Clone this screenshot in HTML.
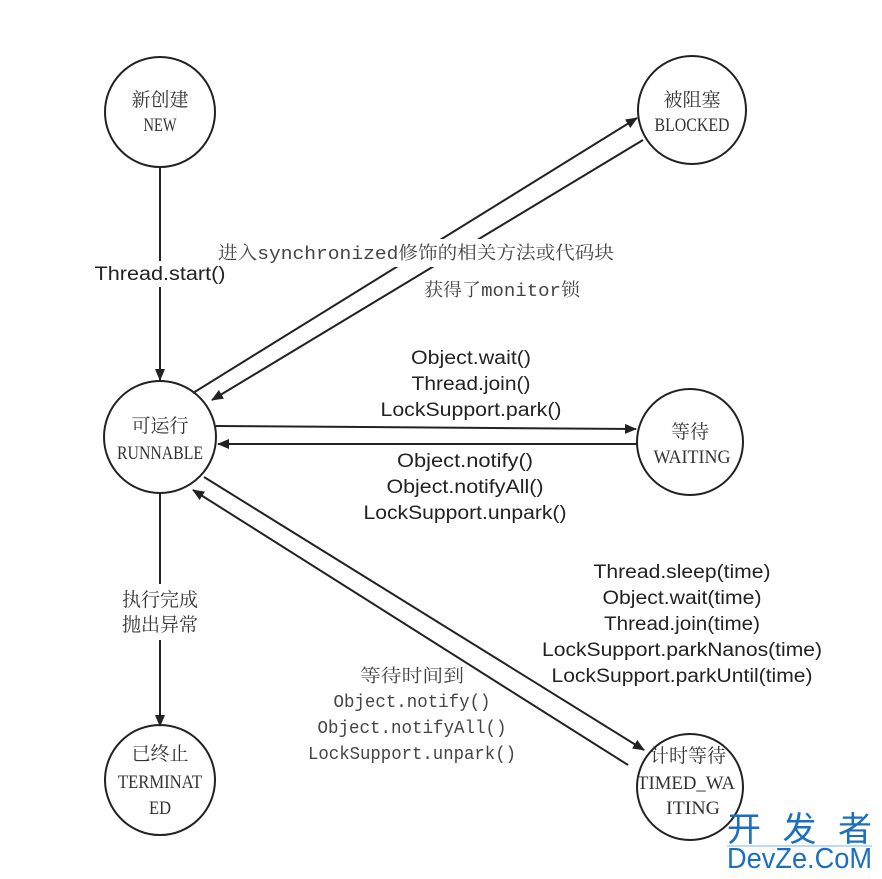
<!DOCTYPE html>
<html><head><meta charset="utf-8"><style>
html,body{margin:0;padding:0;background:#fff;}
svg{display:block}
.s{font-family:"Liberation Sans","Noto Sans CJK SC",sans-serif;font-size:19px;fill:#222}
.c{font-family:"Liberation Serif","Noto Serif CJK SC","Noto Sans CJK SC",serif;font-size:19px;fill:#333}
.n{font-family:"Liberation Serif","Noto Serif CJK SC",serif;font-size:19px;fill:#333}
.m{font-family:"Liberation Mono","Noto Serif CJK SC",monospace;font-size:18px;fill:#444}
</style></head><body>
<svg width="882" height="879" viewBox="0 0 882 879" xmlns="http://www.w3.org/2000/svg">
<defs><marker id="a" markerWidth="12" markerHeight="10" refX="11" refY="5" orient="auto" markerUnits="userSpaceOnUse"><path d="M0,0 L12,5 L0,10 Z" fill="#222"/></marker></defs>
<g fill="none" stroke="#222" stroke-width="2">
<circle cx="160" cy="112" r="55"/>
<circle cx="692" cy="110" r="54"/>
<circle cx="160" cy="437" r="56"/>
<circle cx="690" cy="442" r="53"/>
<circle cx="160" cy="780" r="55"/>
<circle cx="690" cy="787" r="53"/>
<line x1="160" y1="167" x2="160" y2="380" marker-end="url(#a)"/>
<line x1="193" y1="393" x2="637" y2="118" marker-end="url(#a)"/>
<line x1="643" y1="140" x2="212" y2="400" marker-end="url(#a)"/>
<line x1="216" y1="426" x2="636" y2="429" marker-end="url(#a)"/>
<line x1="637" y1="444" x2="218" y2="444" marker-end="url(#a)"/>
<line x1="160" y1="493" x2="160" y2="726" marker-end="url(#a)"/>
<line x1="204" y1="477" x2="644" y2="750" marker-end="url(#a)"/>
<line x1="628" y1="765" x2="193" y2="490" marker-end="url(#a)"/>
</g>
<g fill="#fff">
<rect x="94" y="261" width="133" height="26"/>
<rect x="114" y="584" width="92" height="56"/>
<rect x="214" y="239" width="402" height="28"/>
</g>
<g text-anchor="middle">
<text class="c" x="160" y="106">新创建</text>
<text class="n" x="160" y="131" textLength="33" lengthAdjust="spacingAndGlyphs">NEW</text>
<text class="c" x="692" y="106">被阻塞</text>
<text class="n" x="692" y="131" textLength="75" lengthAdjust="spacingAndGlyphs">BLOCKED</text>
<text class="c" x="160" y="432">可运行</text>
<text class="n" x="160" y="459" textLength="86" lengthAdjust="spacingAndGlyphs">RUNNABLE</text>
<text class="c" x="690" y="438">等待</text>
<text class="n" x="692" y="463" textLength="77" lengthAdjust="spacingAndGlyphs">WAITING</text>
<text class="c" x="160" y="760">已终止</text>
<text class="n" x="160" y="788" textLength="84" lengthAdjust="spacingAndGlyphs">TERMINAT</text>
<text class="n" x="160" y="814" textLength="22" lengthAdjust="spacingAndGlyphs">ED</text>
<text class="c" x="688" y="762">计时等待</text>
<text class="n" x="686" y="789" textLength="98" lengthAdjust="spacingAndGlyphs">TIMED_WA</text>
<text class="n" x="693" y="814" textLength="54" lengthAdjust="spacingAndGlyphs">ITING</text>

<text class="s" x="160" y="280" textLength="131" lengthAdjust="spacingAndGlyphs">Thread.start()</text>
<text class="m" x="416" y="259" textLength="396" lengthAdjust="spacingAndGlyphs">进入synchronized修饰的相关方法或代码块</text>
<text class="m" x="502" y="296" textLength="156" lengthAdjust="spacingAndGlyphs">获得了monitor锁</text>
<text class="s" x="471" y="364" textLength="120" lengthAdjust="spacingAndGlyphs">Object.wait()</text>
<text class="s" x="471" y="390" textLength="119" lengthAdjust="spacingAndGlyphs">Thread.join()</text>
<text class="s" x="471" y="416" textLength="181" lengthAdjust="spacingAndGlyphs">LockSupport.park()</text>
<text class="s" x="465" y="467" textLength="136" lengthAdjust="spacingAndGlyphs">Object.notify()</text>
<text class="s" x="465" y="493" textLength="157" lengthAdjust="spacingAndGlyphs">Object.notifyAll()</text>
<text class="s" x="465" y="519" textLength="203" lengthAdjust="spacingAndGlyphs">LockSupport.unpark()</text>
<text class="c" x="160" y="606">执行完成</text>
<text class="c" x="160" y="631">抛出异常</text>
<text class="s" x="682" y="578" textLength="177" lengthAdjust="spacingAndGlyphs">Thread.sleep(time)</text>
<text class="s" x="682" y="604" textLength="159" lengthAdjust="spacingAndGlyphs">Object.wait(time)</text>
<text class="s" x="682" y="630" textLength="156" lengthAdjust="spacingAndGlyphs">Thread.join(time)</text>
<text class="s" x="682" y="656" textLength="280" lengthAdjust="spacingAndGlyphs">LockSupport.parkNanos(time)</text>
<text class="s" x="682" y="682" textLength="261" lengthAdjust="spacingAndGlyphs">LockSupport.parkUntil(time)</text>
<text class="m" x="412" y="682" textLength="104" lengthAdjust="spacingAndGlyphs">等待时间到</text>
<text class="m" x="412" y="707" textLength="157" lengthAdjust="spacingAndGlyphs">Object.notify()</text>
<text class="m" x="412" y="733" textLength="189" lengthAdjust="spacingAndGlyphs">Object.notifyAll()</text>
<text class="m" x="412" y="759" textLength="208" lengthAdjust="spacingAndGlyphs">LockSupport.unpark()</text>
</g>
<text x="727" y="841" textLength="145" lengthAdjust="spacing" style="font-family:'Noto Sans CJK SC',sans-serif;font-size:34px;fill:#1a6fc0">开发者</text>
<line x1="727" y1="846" x2="872" y2="846" stroke="#7ab8e8" stroke-width="1"/>
<text x="727" y="868" textLength="145" lengthAdjust="spacingAndGlyphs" style="font-family:'Liberation Sans',sans-serif;font-size:29px;fill:#1a6fc0">DevZe.CoM</text>
</svg>
</body></html>
